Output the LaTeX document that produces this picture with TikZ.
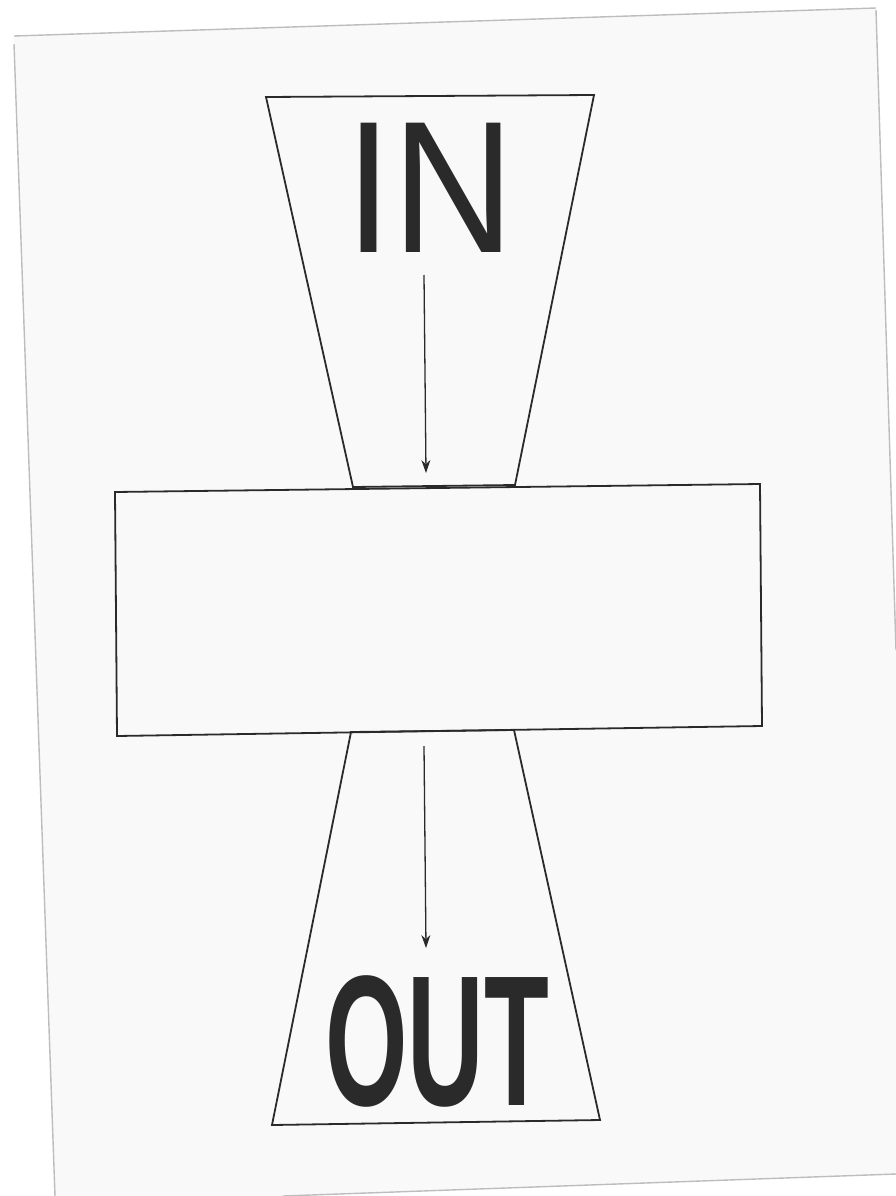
\documentclass[tikz,border=0pt]{standalone}
\usepackage{fontspec}
\setmainfont{Liberation Sans}
\usetikzlibrary{arrows.meta}
\definecolor{ink}{HTML}{2A2A2A}
\definecolor{paper}{HTML}{F9F9F9}
\definecolor{edge}{HTML}{BDBDBD}
\tikzset{
  shape line/.style={draw=ink, line width=1.8pt, line join=miter},
  flow/.style={draw=ink, line width=1.3pt, -{Stealth[length=13pt,width=9pt]}},
  pageedge/.style={draw=edge, line width=1.4pt},
  bigtext/.style={inner sep=0pt, text=ink},
}
\begin{document}
\begin{tikzpicture}[x=1pt,y=-1pt]
\useasboundingbox (0,0) rectangle (896,1196);
% scanned page
\fill[paper] (14,36) -- (876,8) -- (896,650) -- (896,1174) -- (283,1196) -- (55,1196) -- cycle;
\draw[pageedge] (14,36) -- (876,8);
\draw[pageedge] (14,44) -- (55,1196);
\draw[pageedge] (876,10) -- (896,650);
\draw[pageedge] (283,1196) -- (896,1174);
% top funnel
\draw[shape line] (266,97) -- (594,95) -- (515,485) -- (353,487) -- cycle;
% bottom funnel
\draw[shape line] (351,732) -- (514,730) -- (600,1120) -- (272,1125) -- cycle;
% central box
\draw[shape line] (115,492) -- (760,484) -- (762,726) -- (117,736) -- cycle;
% labels
\node[bigtext, anchor=base] (in) at (430,252) {\scalebox{0.9}[1]{\fontsize{188}{188}\selectfont IN}};
\node[bigtext, anchor=base] (out) at (437,1105) {\scalebox{0.57}[1]{\fontsize{186}{186}\selectfont\bfseries OUT}};
% arrows
\coordinate (a1s) at (424,275);
\coordinate (a1e) at (426,473);
\coordinate (a2s) at (424,746);
\coordinate (a2e) at (426,948);
\draw[flow] (a1s) -- (a1e);
\draw[flow] (a2s) -- (a2e);
\end{tikzpicture}
\end{document}
